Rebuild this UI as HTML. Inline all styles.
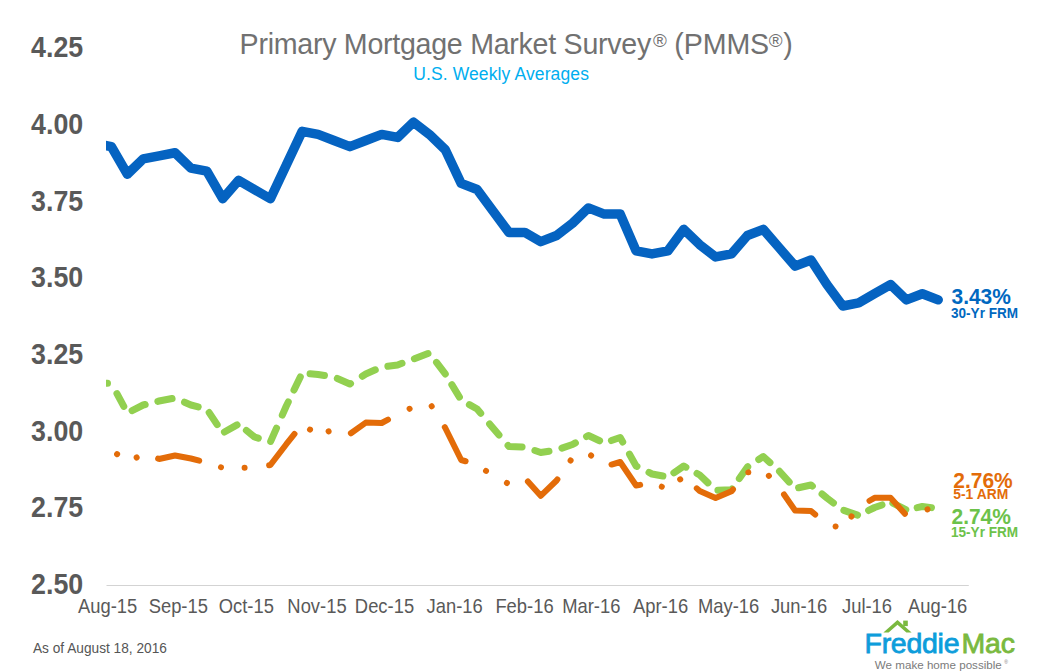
<!DOCTYPE html>
<html><head><meta charset="utf-8"><style>
html,body{margin:0;padding:0;background:#fff;}
body{width:1064px;height:672px;overflow:hidden;position:relative;font-family:"Liberation Sans",sans-serif;}
svg{position:absolute;left:0;top:0;}
</style></head><body>
<svg width="1064" height="672" viewBox="0 0 1064 672" font-family="Liberation Sans, sans-serif">
<defs><clipPath id="pa"><rect x="106" y="30" width="880" height="570"/></clipPath></defs>
<g fill="#717171">
<text x="239.6" y="53.9" font-size="28.6" textLength="411.6" lengthAdjust="spacing">Primary Mortgage Market Survey</text>
<text x="653" y="46.6" font-size="18.75">®</text>
<text x="674.3" y="53.9" font-size="28.6" textLength="94.9" lengthAdjust="spacing">(PMMS</text>
<text x="768.8" y="46.6" font-size="18.75">®</text>
<text x="783.2" y="53.9" font-size="28.6">)</text>
</g>
<text x="413.2" y="79.8" font-size="17.5" letter-spacing="0.12" fill="#00aeef">U.S. Weekly Averages</text>
<g font-size="29.6" font-weight="bold" fill="#595959" text-anchor="end"><text transform="translate(83.2,57.40) scale(0.905,1)">4.25</text><text transform="translate(83.2,134.07) scale(0.905,1)">4.00</text><text transform="translate(83.2,210.74) scale(0.905,1)">3.75</text><text transform="translate(83.2,287.41) scale(0.905,1)">3.50</text><text transform="translate(83.2,364.08) scale(0.905,1)">3.25</text><text transform="translate(83.2,440.75) scale(0.905,1)">3.00</text><text transform="translate(83.2,517.42) scale(0.905,1)">2.75</text><text transform="translate(83.2,594.09) scale(0.905,1)">2.50</text></g>
<line x1="106.5" y1="585.5" x2="968.8" y2="585.5" stroke="#d3d3d3" stroke-width="1.1"/>
<g font-size="20.3" fill="#595959" text-anchor="middle"><text transform="translate(107.6,613.4) scale(0.906,1)">Aug-15</text><text transform="translate(178.3,613.4) scale(0.906,1)">Sep-15</text><text transform="translate(246.3,613.4) scale(0.906,1)">Oct-15</text><text transform="translate(317,613.4) scale(0.906,1)">Nov-15</text><text transform="translate(384.5,613.4) scale(0.906,1)">Dec-15</text><text transform="translate(454.7,613.4) scale(0.906,1)">Jan-16</text><text transform="translate(524.5,613.4) scale(0.906,1)">Feb-16</text><text transform="translate(591.3,613.4) scale(0.906,1)">Mar-16</text><text transform="translate(660.6,613.4) scale(0.906,1)">Apr-16</text><text transform="translate(728.6,613.4) scale(0.906,1)">May-16</text><text transform="translate(799,613.4) scale(0.906,1)">Jun-16</text><text transform="translate(867,613.4) scale(0.906,1)">Jul-16</text><text transform="translate(937.7,613.4) scale(0.906,1)">Aug-16</text></g>
<text transform="translate(33,652.8) scale(0.932,1)" font-size="14.7" fill="#555555">As of August 18, 2016</text>
<g clip-path="url(#pa)" fill="none" stroke-linejoin="round">
<path d="M95.50,383.30 L111.40,383.30 L127.30,413.00 L143.20,405.00 L159.10,401.00 L175.00,398.00 L190.90,405.00 L206.80,409.00 L222.70,433.00 L238.60,424.00 L254.50,437.00 L270.40,442.00 L286.30,406.00 L302.20,373.00 L318.10,374.50 L334.00,377.00 L349.90,384.00 L365.80,374.00 L381.70,367.00 L397.60,365.00 L413.50,359.00 L429.40,353.00 L445.30,374.00 L461.20,400.00 L477.10,409.00 L493.00,428.00 L508.90,446.50 L524.80,447.00 L540.70,452.50 L556.60,450.00 L572.50,444.50 L588.40,435.50 L604.30,443.00 L620.20,437.50 L636.10,466.00 L652.00,474.00 L667.90,477.00 L683.80,466.00 L699.70,475.00 L715.60,490.20 L731.50,489.70 L747.40,467.00 L763.30,456.50 L779.20,471.00 L795.10,488.50 L811.00,485.00 L826.90,498.00 L842.80,510.00 L858.70,515.50 L874.60,507.50 L890.50,502.00 L906.40,510.00 L922.30,506.50 L938.20,508.50" stroke="#92d050" stroke-width="7" stroke-linecap="round" stroke-dasharray="14.50 15.67 14.50 12.78 14.50 13.04 14.50 13.37 14.50 13.14 14.50 12.01 14.50 11.80 14.50 13.31 14.50 14.26 14.50 13.21 14.50 12.29 14.50 13.30 14.50 13.89 14.50 13.23 14.50 13.27 14.50 13.31 14.50 12.59 14.50 12.83 14.50 13.85 14.50 13.90 14.50 13.41 14.50 13.36 14.50 12.83 14.50 12.71 14.50 13.91 14.50 13.44 14.50 12.34 14.50 12.76 14.50 12.87 14.50 12.75 14.50 13.16 14.50 12.93 14.50 12.27 14.50 12.49 14.50 12.81 14.50 12.34 14.50 11.61 14.50 11.69 14.50 13.00 43.76 2000.00" stroke-dashoffset="2.50"/>
<path d="M95.50,450.00 L111.40,449.50 L127.30,462.50 L143.20,454.00 L159.10,459.00 L175.00,455.50 L190.90,458.50 L206.80,462.60 L222.70,467.80 L238.60,467.80 L254.50,467.50 L270.40,465.00 L286.30,444.20 L302.20,424.40 L318.10,435.00 L334.00,429.40 L349.90,434.00 L365.80,422.60 L381.70,423.00 L397.60,414.60 L413.50,406.90 L429.40,402.60 L445.30,428.00 L461.20,460.00 L477.10,464.50 L493.00,476.00 L508.90,484.00 L524.80,478.00 L540.70,495.80 L556.60,480.50 L572.50,457.80 L588.40,453.20 L604.30,466.60 L620.20,462.00 L636.10,485.50 L652.00,483.00 L667.90,489.00 L683.80,476.50 L699.70,491.00 L715.60,498.00 L731.50,491.20 L747.40,472.50 L763.30,469.50 L779.20,487.60 L795.10,510.50 L811.00,511.00 L826.90,524.60 L842.80,528.00 L858.70,507.00 L874.60,497.80 L890.50,497.80 L906.40,515.40 L922.30,511.00 L938.20,506.00" stroke="#e36c09" stroke-width="6" stroke-linecap="round" stroke-dasharray="38.00 23.50 0.01 23.77 0.01 23.04 42.08 22.78 0.01 23.68 0.01 24.68 40.59 21.67 0.01 20.86 0.01 23.50 41.36 24.19 0.01 25.13 0.01 24.68 41.25 22.93 0.01 24.19 0.01 23.88 42.67 23.00 0.01 23.38 0.01 24.75 41.58 22.41 0.01 22.16 0.01 22.17 40.91 23.14 0.01 23.74 0.01 24.02 40.90 24.29 0.01 21.77 0.01 24.40 43.27 24.18 0.01 23.50 37.71 2000.00" stroke-dashoffset="38.23"/>
<path d="M95.50,143.58 L111.40,146.65 L127.30,174.22 L143.20,158.90 L159.10,155.84 L175.00,152.78 L190.90,168.10 L206.80,171.16 L222.70,198.74 L238.60,180.35 L254.50,189.54 L270.40,198.74 L286.30,165.03 L302.20,131.33 L318.10,134.39 L334.00,140.52 L349.90,146.65 L365.80,140.52 L381.70,134.39 L397.60,137.46 L413.50,122.14 L429.40,134.39 L445.30,149.71 L461.20,183.42 L477.10,189.54 L493.00,210.99 L508.90,232.44 L524.80,232.44 L540.70,241.63 L556.60,235.50 L572.50,223.25 L588.40,207.93 L604.30,214.06 L620.20,214.06 L636.10,250.82 L652.00,253.89 L667.90,250.82 L683.80,229.38 L699.70,244.70 L715.60,256.95 L731.50,253.89 L747.40,235.50 L763.30,229.38 L779.20,247.76 L795.10,266.14 L811.00,260.02 L826.90,284.53 L842.80,305.98 L858.70,302.91 L874.60,293.72 L890.50,284.53 L906.40,299.85 L922.30,293.72 L938.20,299.85" stroke="#0563c1" stroke-width="9.5" stroke-linecap="round"/>
</g>
<g font-weight="bold">
<text transform="translate(951.5,303.6) scale(0.975,1)" font-size="21.5" fill="#0068c0">3.43%</text>
<text transform="translate(951.0,317.6) scale(0.97,1)" font-size="14" fill="#0068c0">30-Yr FRM</text>
<text transform="translate(953.3,488) scale(0.975,1)" font-size="21.5" fill="#e36c09">2.76%</text>
<text transform="translate(953.3,499) scale(0.99,1)" font-size="14" fill="#e36c09">5-1 ARM</text>
<text transform="translate(951.5,523.7) scale(0.975,1)" font-size="21.5" fill="#6cc24a">2.74%</text>
<text transform="translate(951.0,536.5) scale(0.97,1)" font-size="14" fill="#6cc24a">15-Yr FRM</text>
</g>
<g>
<polygon points="883.4,632.6 897.5,619.9 911.6,632.6 906.4,632.6 897.5,624.8 888.6,632.6" fill="#7ab93f"/>
<rect x="903.2" y="620.6" width="4.6" height="5.5" fill="#7ab93f"/>
<text x="864.5" y="653" font-size="28.5" fill="#0d9ddb" stroke="#0d9ddb" stroke-width="0.8" textLength="95" lengthAdjust="spacing">Freddie</text>
<text x="961.5" y="653" font-size="28.5" fill="#7ab93f" stroke="#7ab93f" stroke-width="0.8" textLength="53.5" lengthAdjust="spacing">Mac</text>
<text x="874.8" y="668.5" font-size="11.6" fill="#7b7b7b" textLength="127" lengthAdjust="spacing">We make home possible</text>
<text x="1004.3" y="664" font-size="5" fill="#7b7b7b">®</text>
</g>
</svg>
</body></html>
